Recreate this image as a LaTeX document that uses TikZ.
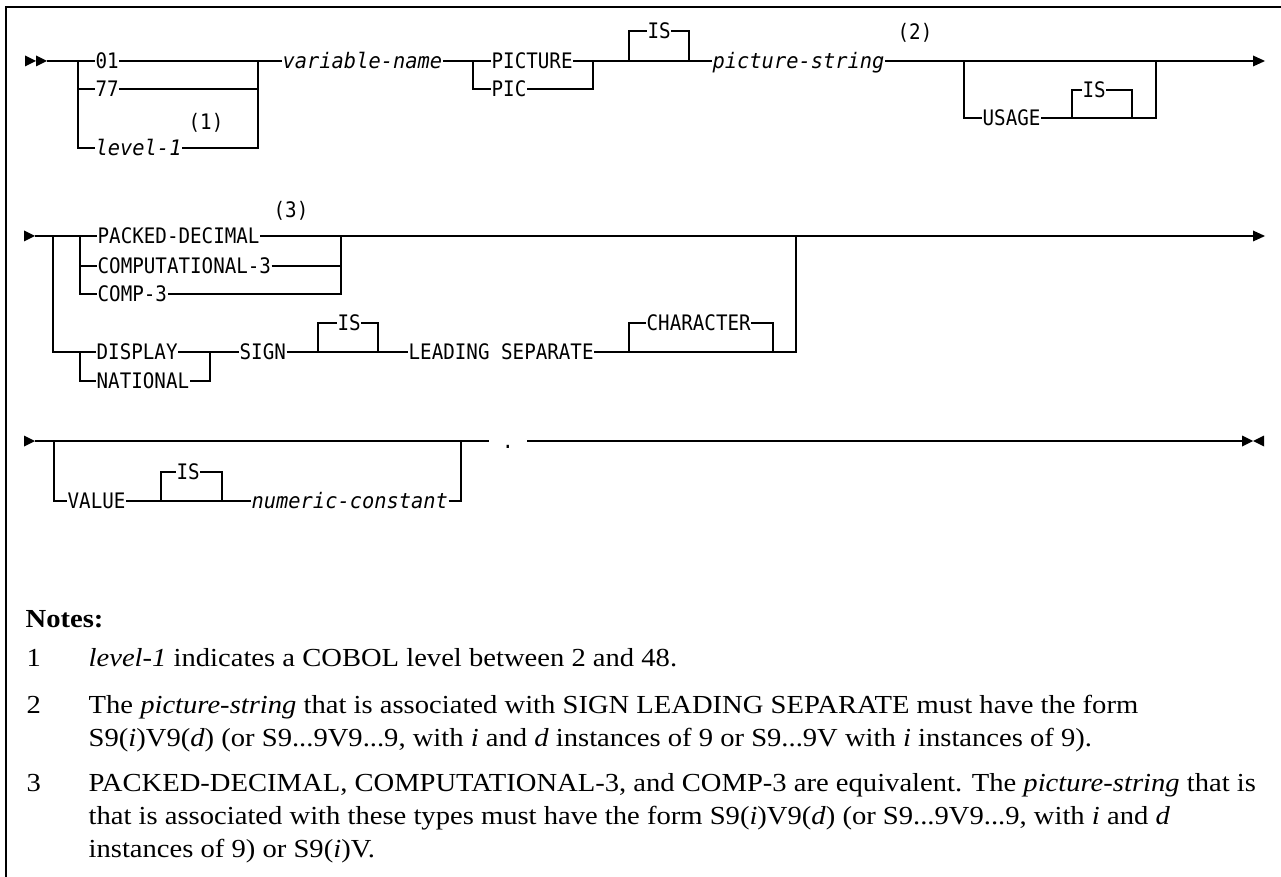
\documentclass[tikz,border=0pt]{standalone}
\usepackage{fontspec}
\newfontfamily\dmono{DejaVu Sans Mono}[FakeStretch=0.9]
\newfontfamily\dmonoi{DejaVu Sans Mono}[FakeStretch=0.955]
\newfontfamily\notefam{Liberation Serif}[FakeStretch=1.1]
\newcommand\kwfont{\dmono\fontsize{16pt}{19pt}\selectfont}
\newcommand\varfont{\dmonoi\itshape\fontsize{16pt}{19pt}\selectfont}
\newcommand\notefont{\notefam\fontsize{19.5pt}{24pt}\selectfont}
\begin{document}
\begin{tikzpicture}[x=0.75pt,y=-0.75pt,line width=1pt,
  kw/.style={anchor=west,inner sep=0pt,text height=11.7pt,text depth=0pt,font=\kwfont},
  var/.style={kw,font=\varfont},
  fn/.style={kw,anchor=center},
  note/.style={anchor=base west,inner sep=0pt,font=\notefont}]
\useasboundingbox (0,0) rectangle (1281,877);
% frame
\draw[line width=1.1pt] (6,877) -- (6,7) -- (1281,7);

% ---------------- row 1 ----------------
\fill (25,55.5) -- (36,61) -- (25,66.5) -- cycle;
\fill (36,55.5) -- (47,61) -- (36,66.5) -- cycle;
\coordinate (r1s) at (47,61);
\coordinate (b1l) at (78,61);
\coordinate (b1r) at (258,61);
\node[kw] (n01) at (95,61) {01};
\node[kw] (n77) at (95,89) {77};
\node[var] (lvl) at (95,148) {level-1};
\node[fn] (f1) at (206,122) {(1)};
\draw (r1s) -- (n01.west);
\draw (b1l) |- (lvl.west);
\draw (b1l |- n77) -- (n77.west);
\draw (n01.east) -- (b1r) |- (lvl.east);
\draw (n77.east) -- (n77 -| b1r);
\node[var] (vn) at (282,61) {variable-name};
\draw (b1r) -- (vn.west);
\coordinate (b2l) at (473,61);
\coordinate (b2r) at (593,61);
\node[kw] (pict) at (491,61) {PICTURE};
\node[kw] (pic) at (491,89) {PIC};
\draw (vn.east) -- (pict.west);
\draw (b2l) |- (pic.west);
\draw (pict.east) -- (b2r) |- (pic.east);
\coordinate (is1l) at (629,61);
\coordinate (is1r) at (689,61);
\node[kw] (is1) at (647,31) {IS};
\node[var] (psn) at (712,61) {picture-string};
\node[fn] (f2) at (915,32) {(2)};
\draw (b2r) -- (psn.west);
\draw (is1l) |- (is1.west);
\draw (is1.east) -| (is1r);
\coordinate (end1) at (1253,61);
\draw (psn.east) -- (end1);
\fill (1253,55.5) -- (1265,61) -- (1253,66.5) -- cycle;
\coordinate (u1l) at (964,61);
\coordinate (u1r) at (1156,61);
\node[kw] (usage) at (982,118) {USAGE};
\coordinate (is2l) at (1072,118);
\coordinate (is2r) at (1132,118);
\node[kw] (is2) at (1082,90) {IS};
\draw (u1l) |- (usage.west);
\draw (usage.east) -- (u1r |- usage) -- (u1r);
\draw (is2l) |- (is2.west);
\draw (is2.east) -| (is2r);

% ---------------- row 2 ----------------
\fill (24,230.5) -- (35,236) -- (24,241.5) -- cycle;
\coordinate (r2s) at (35,236);
\coordinate (o2l) at (53,236);
\coordinate (i2l) at (80,236);
\coordinate (i2r) at (341,236);
\coordinate (o2r) at (796,236);
\coordinate (end2) at (1253,236);
\node[kw] (pd) at (97,236) {PACKED-DECIMAL};
\node[kw] (c3) at (97,266) {COMPUTATIONAL-3};
\node[kw] (cp3) at (97,294) {COMP-3};
\node[fn] (f3) at (291,210) {(3)};
\draw (r2s) -- (pd.west);
\draw (pd.east) -- (end2);
\fill (1253,230.5) -- (1265,236) -- (1253,241.5) -- cycle;
\draw (i2l) |- (cp3.west);
\draw (i2l |- c3) -- (c3.west);
\draw (i2r) |- (cp3.east);
\draw (c3.east) -- (c3 -| i2r);
\node[kw] (disp) at (96,352) {DISPLAY};
\node[kw] (nat) at (96,381) {NATIONAL};
\coordinate (d2l) at (80,352);
\coordinate (d2r) at (210,352);
\node[kw] (sign) at (239,352) {SIGN};
\draw (o2l) |- (disp.west);
\draw (d2l) |- (nat.west);
\draw (disp.east) -- (sign.west);
\draw (d2r) |- (nat.east);
\coordinate (is3l) at (318,352);
\coordinate (is3r) at (378,352);
\node[kw] (is3) at (337,323) {IS};
\node[kw] (lead) at (408,352) {LEADING SEPARATE};
\draw (sign.east) -- (lead.west);
\draw (is3l) |- (is3.west);
\draw (is3.east) -| (is3r);
\coordinate (chl) at (629,352);
\coordinate (chr) at (773,352);
\node[kw] (char) at (646,323) {CHARACTER};
\draw (lead.east) -- (o2r |- lead) -- (o2r);
\draw (chl) |- (char.west);
\draw (char.east) -| (chr);

% ---------------- row 3 ----------------
\fill (24,435.5) -- (35,441) -- (24,446.5) -- cycle;
\coordinate (r3s) at (35,441);
\coordinate (v3l) at (54,441);
\coordinate (v3r) at (461,441);
\node[fn,minimum width=27.75pt] (dot) at (508,441) {.};
\coordinate (end3) at (1242,441);
\draw (r3s) -- (dot.west);
\draw (dot.east) -- (end3);
\fill (1242,435.5) -- (1253,441) -- (1242,446.5) -- cycle;
\fill (1264,435.5) -- (1253,441) -- (1264,446.5) -- cycle;
\node[kw] (value) at (67,501) {VALUE};
\coordinate (is4l) at (161,501);
\coordinate (is4r) at (222,501);
\node[kw] (is4) at (176,472) {IS};
\node[var] (numc) at (251,501) {numeric-constant};
\draw (v3l) |- (value.west);
\draw (value.east) -- (numc.west);
\draw (is4l) |- (is4.west);
\draw (is4.east) -| (is4r);
\draw (numc.east) -| (v3r);

% ---------------- notes ----------------
\node[note,font=\notefont\bfseries] (notes) at (25,627) {Notes:};
\node[note] (k1) at (26,666) {1};
\node[note] (t1) at (88,666) {\textit{level-1} indicates a COBOL level between 2 and 48.};
\node[note] (k2) at (26,713) {2};
\node[note] (t2a) at (88,713) {The \textit{picture-string} that is associated with SIGN LEADING SEPARATE must have the form};
\node[note] (t2b) at (88,746) {S9(\textit{i})V9(\textit{d}) (or S9...9V9...9, with \textit{i} and \textit{d} instances of 9 or S9...9V with \textit{i} instances of 9).};
\node[note] (k3) at (26,791) {3};
\node[note] (t3a) at (88,791) {PACKED-DECIMAL, COMPUTATIONAL-3, and COMP-3 are equivalent. The \textit{picture-string} that is};
\node[note] (t3b) at (88,824) {that is associated with these types must have the form S9(\textit{i})V9(\textit{d}) (or S9...9V9...9, with \textit{i} and \textit{d}};
\node[note] (t3c) at (88,857) {instances of 9) or S9(\textit{i})V.};
\end{tikzpicture}
\end{document}
